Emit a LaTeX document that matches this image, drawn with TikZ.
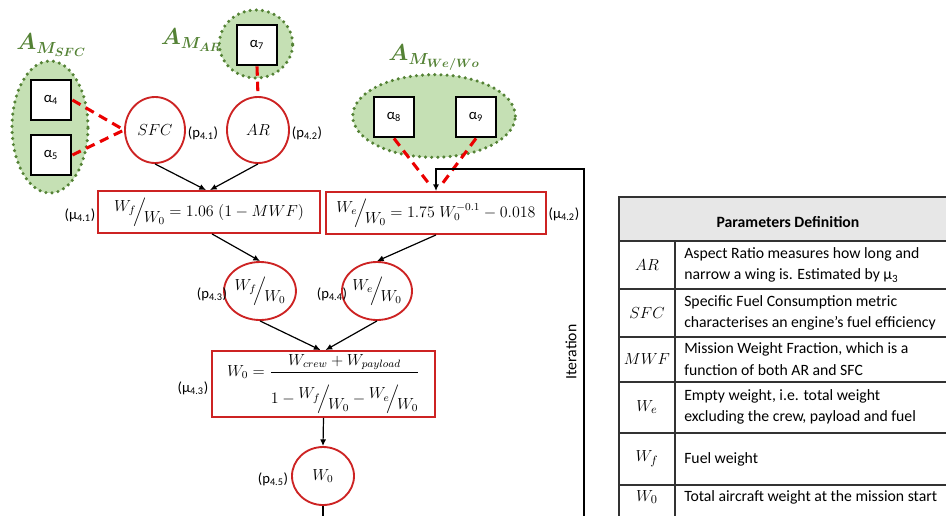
\documentclass[tikz,border=0pt]{standalone}
\usepackage{fontspec}
\setmainfont{Carlito}
\usepackage{amsmath}
\usepackage{bm}
\usetikzlibrary{shapes.geometric,calc,arrows.meta}
\definecolor{gfill}{RGB}{197,224,180}
\definecolor{gdark}{RGB}{84,130,53}
\definecolor{bred}{RGB}{205,35,35}
\definecolor{dred}{RGB}{235,0,0}
\definecolor{tline}{RGB}{50,50,50}
\definecolor{thead}{RGB}{231,231,231}
\newcommand\slf[2]{\mathord{\raisebox{0.6ex}{$#1$}\mkern-3mu\Big/\mkern-3mu\raisebox{-0.8ex}{$#2$}}}
\newcommand\glab[1]{$\bm{A}$\raisebox{-0.35ex}{\fontsize{12.5}{14}\selectfont$\bm{M}_{\bm{#1}}$}}
\begin{document}
\begin{tikzpicture}[x=0.75pt,y=-0.75pt,font=\fontsize{11}{13}\selectfont,
  grp/.style={ellipse,fill=gfill,draw=gdark,line width=2.6pt,dash pattern=on 0pt off 4.6pt,line cap=round,inner sep=0pt},
  abox/.style={draw=black,line width=2.1pt,fill=white,minimum size=30pt,inner sep=0pt},
  pc/.style={ellipse,draw=bred,line width=1.4pt,fill=white,inner sep=0pt},
  eqbox/.style={draw=bred,line width=1.4pt,fill=white,inner sep=0pt},
  dl/.style={dred,line width=2.3pt,dash pattern=on 7pt off 4.5pt},
  arr/.style={-{Latex[length=5pt,width=4.5pt]},line width=0.9pt},
  lbl/.style={inner sep=0pt},
  glbl/.style={inner sep=0pt,text=gdark,font=\fontsize{16}{18}\selectfont},
  eqf/.style={font=\fontsize{12}{14}\selectfont},
  tt/.style={anchor=west,align=left,inner sep=0pt,font=\fontsize{11.8}{16}\selectfont},
  tm/.style={inner sep=0pt,font=\fontsize{12.5}{14}\selectfont}]
\useasboundingbox (0,0) rectangle (946,515);
\clip (0,0) rectangle (946,515);

% groups
\node[grp,minimum width=57pt,minimum height=99pt] (gsfc) at (50,127) {};
\node[grp,minimum width=55pt,minimum height=51pt] (gar) at (256,44) {};
\node[grp,minimum width=122pt,minimum height=62pt] (gwe) at (434,116) {};
\node[glbl] (lsfc) at (51,45) {\glab{SFC}};
\node[glbl] (lar) at (191,40) {\glab{AR}};
\node[glbl] (lwe) at (434,58) {\glab{We/Wo}};

% alpha boxes
\node[abox] (a4) at (51,100) {α\textsubscript{4}};
\node[abox] (a5) at (51,155) {α\textsubscript{5}};
\node[abox] (a7) at (257,45) {α\textsubscript{7}};
\node[abox] (a8) at (394,117) {α\textsubscript{8}};
\node[abox] (a9) at (476,117) {α\textsubscript{9}};

% parameter circles
\node[pc,eqf,minimum width=45pt,minimum height=49.5pt] (sfc) at (155,130) {$SFC$};
\node[pc,eqf,minimum width=46.5pt,minimum height=49.5pt] (ar) at (258,130) {$AR$};
\node[lbl] (p41) at (203,133) {(p\textsubscript{4.1})};
\node[lbl] (p42) at (307,133) {(p\textsubscript{4.2})};

% equation boxes
\node[eqbox,eqf,minimum width=166.5pt,minimum height=31.5pt] (wf) at (209,212) {$\slf{W_f}{W_0} = 1.06\;(1 - MWF)$};
\node[eqbox,eqf,minimum width=165pt,minimum height=31.5pt] (we) at (436,213) {$\slf{W_e}{W_0} = 1.75\;W_0^{-0.1} - 0.018$};
\node[lbl] (m41) at (80,215) {(μ\textsubscript{4.1})};
\node[lbl] (m42) at (564,214) {(μ\textsubscript{4.2})};

% ratio circles
\node[pc,eqf,minimum width=48.75pt,minimum height=43.5pt] (wfc) at (260,291) {$\slf{W_f}{W_0}$};
\node[pc,eqf,minimum width=43.5pt,minimum height=43.5pt] (wec) at (377,291) {$\slf{W_e}{W_0}$};
\node[lbl] (p43) at (212,294) {(p\textsubscript{4.3})};
\node[lbl] (p44) at (332,294) {(p\textsubscript{4.4})};

% W0 box
\node[eqbox,eqf,inner ysep=2pt,minimum width=167pt,minimum height=49.5pt] (w0) at (323.5,384) {$W_0 = \dfrac{W_{crew} + W_{payload}}{\rule{0pt}{3.8ex}1 - \slf{W_f}{W_0} - \slf{W_e}{W_0}}$};
\node[lbl] (m43) at (193,388) {(μ\textsubscript{4.3})};

\node[pc,eqf,minimum width=46.5pt,minimum height=43.5pt] (w0c) at (323,476) {$W_0$};
\node[lbl] (p45) at (273,479) {(p\textsubscript{4.5})};

% dashed red links
\draw[dl] (a4.east) -- (sfc.west);
\draw[dl] (a5.east) -- (sfc.west);
\draw[dl] (a7.south) -- (ar.north);
\coordinate (d8) at ($(we.north)+(-6,-6)$);
\coordinate (d9) at ($(we.north)+(6,-7)$);
\draw[dl] (a8.south) -- (d8);
\draw[dl] (a9.south) -- (d9);

% arrows
\draw[arr] (sfc.south) -- ($(wf.north)+(-3,0)$);
\draw[arr] (ar.south) -- ($(wf.north)+(1,0)$);
\draw[arr] ($(wf.south)+(3,0)$) -- (wfc.north);
\draw[arr] (we.south) -- (wec.north);
\draw[arr] (wfc.south) -- ($(w0.north)+(-3,0)$);
\draw[arr] (wec.south) -- ($(w0.north)+(2,0)$);
\draw[arr] (w0.south) -- (w0c.north);

% iteration loop
\coordinate (itb) at (323,540);
\coordinate (itr) at (584,540);
\coordinate (itt) at (584,169);
\draw[arr] (w0c.south) -- (itb) -- (itr) -- (itt) -| (we.north);
\node[lbl,rotate=90,font=\fontsize{11.8}{13}\selectfont] (iter) at (571,352) {Iteration};

% table
\fill[thead] (619,197) rectangle (957,241);
\draw[tline,line width=1.2pt] (619,197) rectangle (957,537);
\draw[tline,line width=1.2pt] (619,241) -- (957,241);
\foreach \yy in {289,337,382,433,485} \draw[tline,line width=1.2pt] (619,\yy) -- (957,\yy);
\draw[tline,line width=1.2pt] (675,241) -- (675,537);
\node[inner sep=0pt,font=\fontsize{11.8}{13}\selectfont\bfseries] (th) at (788,222) {Parameters Definition};
\node[tm] (k1) at (647,265) {$AR$};
\node[tm] (k2) at (647,313) {$SFC$};
\node[tm] (k3) at (647,359) {$MWF$};
\node[tm] (k4) at (647,407) {$W_e$};
\node[tm] (k5) at (647,459) {$W_f$};
\node[tm] (k6) at (647,497) {$W_0$};
\node[tt] (d1) at (684,265) {Aspect Ratio measures how long and\\narrow a wing is. Estimated by μ\textsubscript{3}};
\node[tt] (d2) at (684,313) {Specific Fuel Consumption metric\\characterises an engine's fuel efficiency};
\node[tt] (d3) at (684,359) {Mission Weight Fraction, which is a\\function of both AR and SFC};
\node[tt] (d4) at (684,407) {Empty weight, i.e. total weight\\excluding the crew, payload and fuel};
\node[tt] (d5) at (684,459) {Fuel weight};
\node[tt] (d6) at (684,497) {Total aircraft weight at the mission start};
\end{tikzpicture}
\end{document}
